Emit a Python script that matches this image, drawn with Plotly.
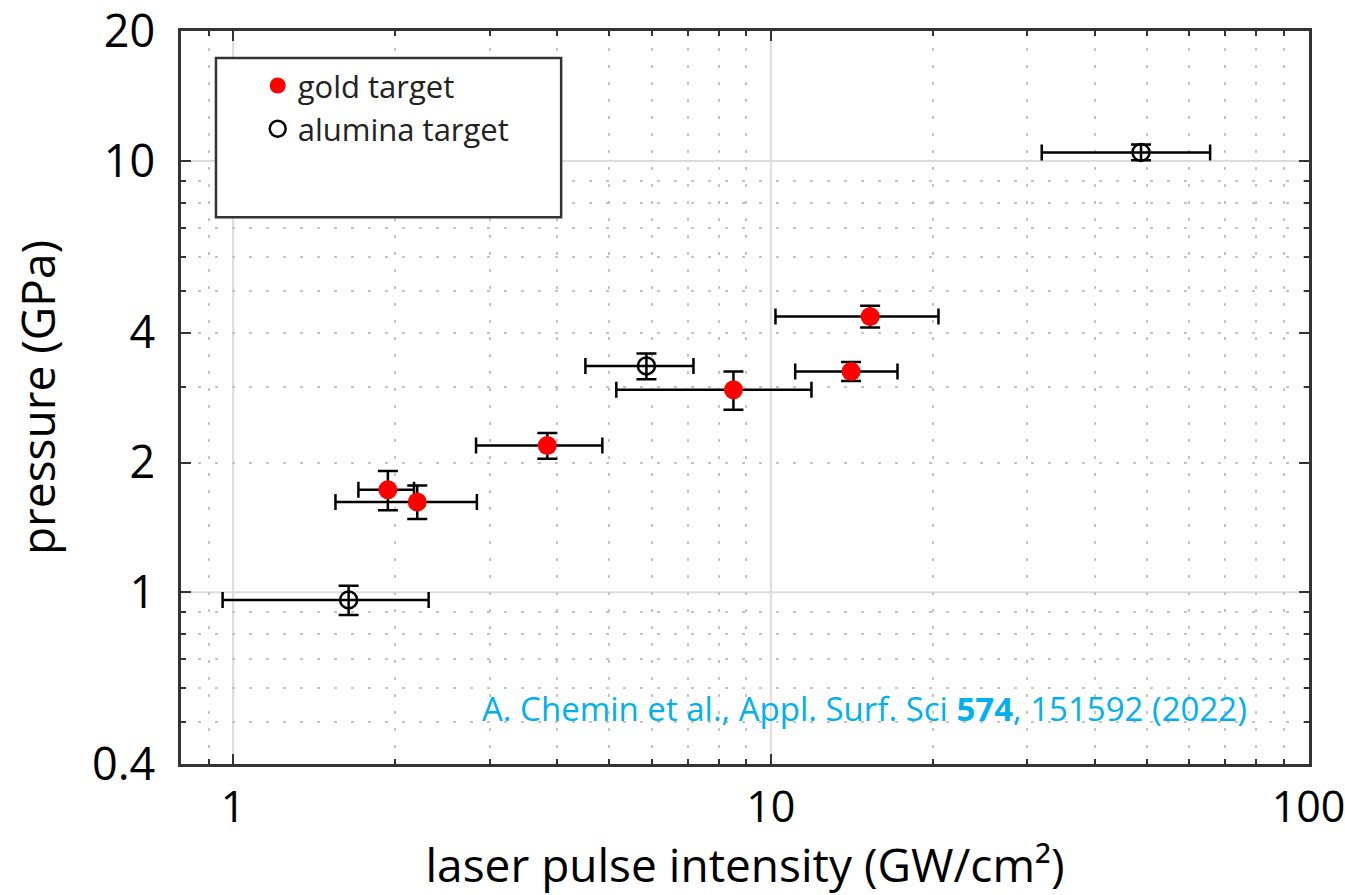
import plotly.graph_objects as go

# ---- data ----
gold_x = [1.94, 2.20, 3.84, 8.52, 14.1, 15.3]
gold_y = [1.73, 1.62, 2.19, 2.95, 3.25, 4.36]
gold_x_lo = [1.71, 1.55, 2.83, 5.16, 11.1, 10.2]
gold_x_hi = [2.17, 2.84, 4.86, 11.9, 17.2, 20.5]
gold_y_lo = [1.55, 1.48, 2.04, 2.65, 3.09, 4.11]
gold_y_hi = [1.91, 1.77, 2.34, 3.25, 3.42, 4.62]

alu_x = [1.64, 5.87, 48.8]
alu_y = [0.960, 3.35, 10.47]
alu_x_lo = [0.956, 4.52, 31.9]
alu_x_hi = [2.31, 7.18, 65.6]
alu_y_lo = [0.886, 3.12, 10.05]
alu_y_hi = [1.036, 3.58, 10.93]

x_ticks = [1, 10, 100]
x_minor = [0.9, 2, 3, 4, 5, 6, 7, 8, 9, 20, 30, 40, 50, 60, 70, 80, 90]
y_ticks = [0.4, 1, 2, 4, 10, 20]
y_tick_text = ["0.4", "1", "2", "4", "10", "20"]
y_minor = [0.5, 0.6, 0.7, 0.8, 0.9, 2, 3, 4, 5, 6, 7, 8, 9]
major_lines = [1, 10]

FONT = "Open Sans"


def err(vals, lo, hi):
    plus = [h - v for v, h in zip(vals, hi)]
    minus = [v - l for v, l in zip(vals, lo)]
    return plus, minus


gxp, gxm = err(gold_x, gold_x_lo, gold_x_hi)
gyp, gym = err(gold_y, gold_y_lo, gold_y_hi)
axp, axm = err(alu_x, alu_x_lo, alu_x_hi)
ayp, aym = err(alu_y, alu_y_lo, alu_y_hi)

fig = go.Figure()

fig.add_trace(go.Scatter(
    x=gold_x, y=gold_y, mode="markers", name="gold target",
    marker=dict(symbol="circle", size=19, color="red", line=dict(width=0)),
    error_x=dict(type="data", symmetric=False, array=gxp, arrayminus=gxm,
                 color="black", thickness=2.5, width=8),
    error_y=dict(type="data", symmetric=False, array=gyp, arrayminus=gym,
                 color="black", thickness=2.5, width=10),
))
fig.add_trace(go.Scatter(
    x=alu_x, y=alu_y, mode="markers", name="alumina target",
    marker=dict(symbol="circle-open", size=17, color="black", line=dict(width=2.5, color="black")),
    error_x=dict(type="data", symmetric=False, array=axp, arrayminus=axm,
                 color="black", thickness=2.5, width=8),
    error_y=dict(type="data", symmetric=False, array=ayp, arrayminus=aym,
                 color="black", thickness=2.5, width=10),
))

shapes = []
for v in major_lines:
    shapes.append(dict(type="line", xref="x", yref="paper", x0=v, x1=v, y0=0, y1=1,
                       line=dict(color="#dcdcdc", width=2), layer="below"))
    shapes.append(dict(type="line", xref="paper", yref="y", x0=0, x1=1, y0=v, y1=v,
                       line=dict(color="#dcdcdc", width=2), layer="below"))
# legend box
shapes.append(dict(type="rect", xref="paper", yref="paper", x0=0.031, x1=0.337,
                   y0=0.746, y1=0.963, line=dict(color="#333333", width=2.5),
                   fillcolor="white", layer="above"))

fig.update_layout(
    width=1345, height=895,
    margin=dict(l=181, r=36, t=31, b=131, autoexpand=False),
    paper_bgcolor="white", plot_bgcolor="white",
    font=dict(family=FONT, color="black"),
    showlegend=True,
    legend=dict(x=0.068, y=0.962, xanchor="left", yanchor="top",
                bgcolor="rgba(0,0,0,0)", borderwidth=0,
                font=dict(family=FONT, size=31, color="#222222"),
                itemsizing="trace", tracegroupgap=0),
    shapes=shapes,
    annotations=[dict(
        xref="paper", yref="paper", x=0.606, y=0.076, xanchor="center", yanchor="middle",
        text="A. Chemin et al., Appl. Surf. Sci <b>574</b>, 151592 (2022)",
        showarrow=False, font=dict(family=FONT, size=33, color="#00b0f0"))],
)

fig.update_xaxes(
    type="log", range=[-0.09691, 2.0008], automargin=False,
    tickvals=x_ticks, ticktext=[str(v) for v in x_ticks],
    tickfont=dict(family=FONT, size=43, color="black"),
    ticks="inside", ticklen=10, tickwidth=2, tickcolor="#333333",
    ticklabelstandoff=4, ticklabeloverflow="allow",
    showgrid=False, zeroline=False,
    showline=True, linecolor="#333333", linewidth=2.5, mirror="allticks",
    minor=dict(tickvals=x_minor, ticks="inside", ticklen=5, tickwidth=2, tickcolor="#333333",
               showgrid=True, gridcolor="#c4c4c4", gridwidth=2, griddash="3px,14px"),
    title=dict(text="laser pulse intensity (GW/cm²)", font=dict(family=FONT, size=46, color="black"),
               standoff=8),
)
fig.update_yaxes(
    type="log", range=[-0.3981, 1.3016], automargin=False,
    tickvals=y_ticks, ticktext=y_tick_text,
    tickfont=dict(family=FONT, size=45, color="black"),
    ticks="inside", ticklen=10, tickwidth=2, tickcolor="#333333",
    ticklabelstandoff=14, ticklabeloverflow="allow",
    showgrid=False, zeroline=False,
    showline=True, linecolor="#333333", linewidth=2.5, mirror="allticks",
    minor=dict(tickvals=y_minor, ticks="inside", ticklen=5, tickwidth=2, tickcolor="#333333",
               showgrid=True, gridcolor="#c4c4c4", gridwidth=2, griddash="3px,14px"),
    title=dict(text="pressure (GPa)", font=dict(family=FONT, size=46, color="black"),
               standoff=22),
)

fig.write_html("out.html")
